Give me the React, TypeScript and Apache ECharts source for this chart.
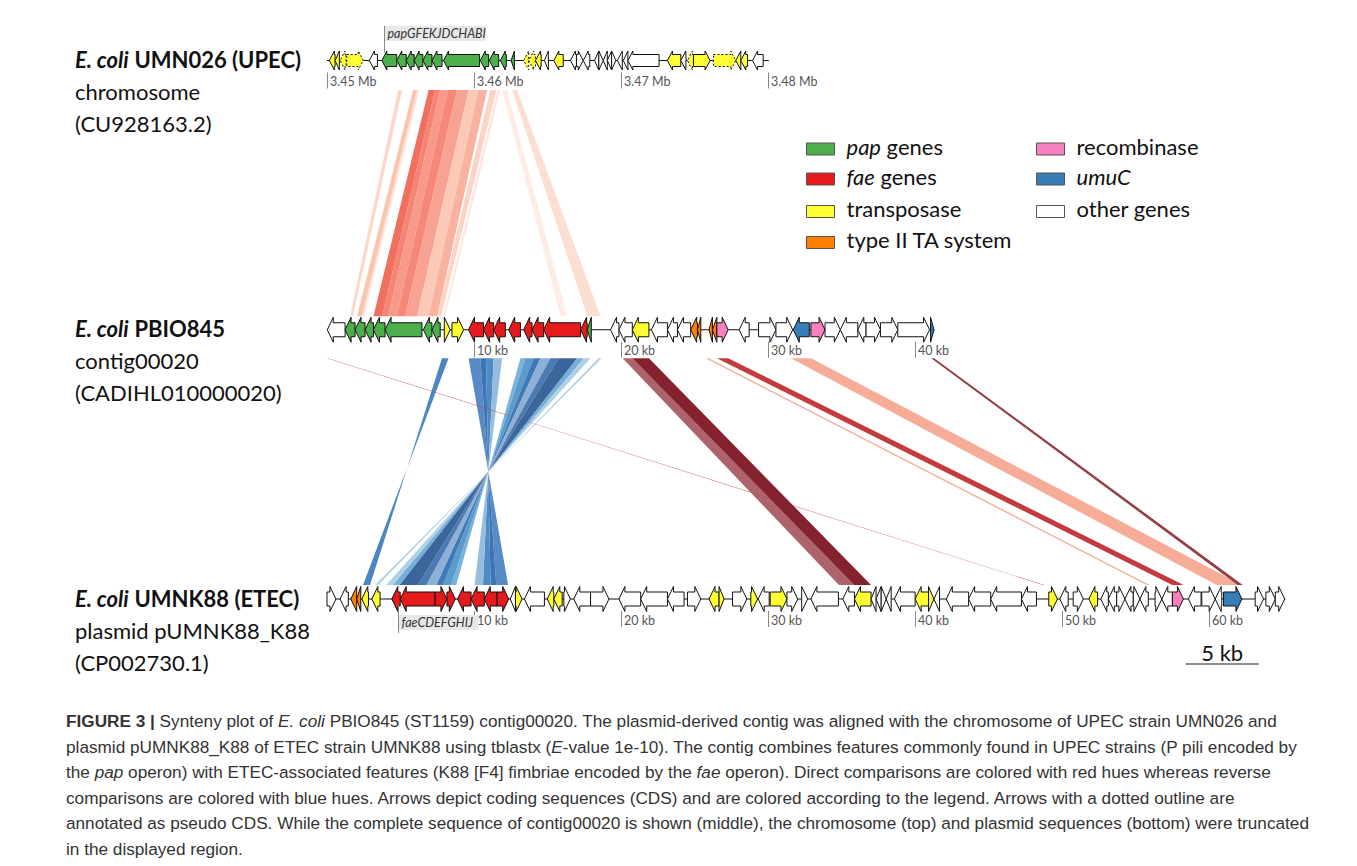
import React, { useEffect, useRef } from "react";
import * as echarts from "echarts";

// ---------- DATA ----------
const TOP_OFFSET = 3450; // kb, left end of displayed chromosome window

// categories: 0 pap, 1 fae, 2 transposase, 3 type II TA, 4 recombinase, 5 umuC, 6 other
const categoryNames = ["pap genes", "fae genes", "transposase", "type II TA system", "recombinase", "umuC", "other genes"];
const categoryColors = ["#4daf4a", "#e41a1c", "#ffff33", "#ff7f00", "#f781bf", "#377eb8", "#ffffff"];

// [start kb, end kb, strand, category, pseudo]
const topGenes = [
  [3450.16, 3450.55, -1, 2, 0], [3450.55, 3450.84, -1, 2, 0], [3450.89, 3451.3, -1, 2, 1], [3451.34, 3452.47, 1, 2, 1],
  [3452.88, 3453.43, -1, 6, 0], [3453.73, 3454.75, -1, 0, 0], [3454.75, 3455.39, -1, 0, 0], [3455.39, 3455.93, -1, 0, 0],
  [3455.93, 3456.52, -1, 0, 0], [3456.52, 3457.14, -1, 0, 0], [3457.14, 3457.82, -1, 0, 0], [3457.93, 3460.38, -1, 0, 0],
  [3460.43, 3461.0, -1, 0, 0], [3461.04, 3461.68, -1, 0, 0], [3461.79, 3462.2, -1, 0, 0], [3462.52, 3462.75, -1, 0, 0],
  [3463.38, 3463.72, -1, 2, 1], [3463.72, 3464.18, -1, 2, 1], [3464.18, 3464.57, -1, 2, 0], [3464.79, 3465.06, -1, 6, 0],
  [3465.43, 3466.07, -1, 2, 0], [3466.56, 3466.97, -1, 6, 0], [3466.97, 3467.43, 1, 6, 0], [3467.43, 3467.88, -1, 6, 0],
  [3468.2, 3468.49, -1, 6, 0], [3468.49, 3468.79, 1, 6, 0], [3468.79, 3469.07, -1, 6, 0], [3469.07, 3469.36, -1, 6, 0],
  [3469.36, 3469.65, 1, 6, 0], [3469.75, 3470.09, -1, 6, 0], [3470.16, 3470.47, -1, 6, 0], [3470.47, 3472.59, -1, 6, 0],
  [3473.16, 3474.07, -1, 2, 0], [3474.07, 3474.42, -1, 6, 0], [3474.52, 3474.93, -1, 2, 1], [3474.93, 3476.06, 1, 2, 0],
  [3476.29, 3477.81, 1, 2, 1], [3477.81, 3478.15, -1, 2, 0], [3478.15, 3478.61, -1, 2, 0], [3478.95, 3479.67, -1, 6, 0],
];

const midGenes = [
  [0.02, 1.23, -1, 6, 0], [1.23, 1.91, -1, 0, 0], [1.91, 2.59, -1, 0, 0], [2.59, 3.16, -1, 0, 0], [3.16, 3.95, -1, 0, 0],
  [3.95, 6.46, -1, 0, 0], [6.56, 7.14, -1, 0, 0], [7.14, 7.7, -1, 0, 0], [7.98, 8.38, 1, 2, 0], [8.5, 9.29, 1, 2, 0],
  [9.63, 10.65, -1, 1, 0], [10.65, 11.34, -1, 1, 0], [11.34, 12.13, -1, 1, 0], [12.36, 13.16, -1, 1, 0], [13.38, 13.95, -1, 1, 0],
  [13.95, 14.74, -1, 1, 0], [14.74, 17.25, -1, 1, 0], [17.25, 17.7, -1, 1, 0], [17.7, 17.98, -1, 0, 0], [19.29, 19.86, -1, 6, 0],
  [19.86, 20.77, -1, 6, 0], [20.77, 21.9, -1, 2, 0], [22.07, 23.16, -1, 6, 0], [23.16, 23.84, -1, 6, 0], [23.84, 24.74, -1, 6, 0],
  [24.74, 25.2, -1, 3, 0], [25.2, 25.43, -1, 3, 0], [25.99, 26.22, -1, 3, 0], [26.22, 26.52, -1, 3, 0], [26.52, 27.29, 1, 4, 0],
  [28.04, 28.72, -1, 6, 0], [29.36, 30.54, 1, 6, 0], [30.54, 31.68, 1, 6, 0], [31.72, 32.81, -1, 5, 0], [32.92, 33.88, 1, 4, 0],
  [33.88, 34.92, 1, 6, 0], [34.92, 36.11, -1, 6, 0], [36.11, 36.67, -1, 6, 0], [36.67, 37.65, 1, 6, 0], [37.65, 38.83, 1, 6, 0],
  [38.83, 40.99, 1, 6, 0], [41.06, 41.29, 1, 5, 0],
];

const botGenes = [
  [0.0, 0.61, 1, 6, 0], [0.89, 1.45, -1, 6, 0], [1.62, 2.02, -1, 3, 0], [2.02, 2.3, -1, 3, 0], [2.37, 2.82, -1, 2, 0],
  [3.05, 3.61, -1, 2, 0], [4.41, 4.98, -1, 1, 0], [4.98, 7.36, -1, 1, 0], [7.36, 8.16, 1, 1, 0], [8.16, 8.73, 1, 1, 0],
  [8.88, 9.8, -1, 1, 0], [9.8, 10.7, -1, 1, 0], [10.7, 11.57, -1, 1, 0], [11.57, 12.36, 1, 1, 0], [12.47, 12.82, -1, 6, 0],
  [12.82, 13.27, 1, 2, 0], [13.43, 14.79, -1, 6, 0], [14.98, 15.43, -1, 2, 0], [15.43, 16.0, -1, 2, 0], [16.11, 16.56, 1, 6, 0],
  [16.79, 17.93, -1, 6, 0], [17.93, 19.18, 1, 6, 0], [19.86, 21.34, -1, 6, 0], [21.34, 23.16, -1, 6, 0], [23.16, 24.29, -1, 6, 0],
  [24.52, 25.43, 1, 6, 0], [25.99, 26.67, -1, 2, 0], [26.67, 27.01, 1, 2, 0], [27.59, 28.56, 1, 6, 0], [28.83, 29.29, 1, 2, 0],
  [29.33, 30.08, -1, 6, 0], [30.15, 31.29, 1, 2, 0], [31.29, 32.02, 1, 6, 0], [32.29, 32.7, 1, 6, 0], [32.92, 34.79, -1, 6, 0],
  [35.09, 35.88, -1, 6, 0], [35.88, 37.01, -1, 2, 0], [37.01, 37.35, -1, 6, 0], [37.35, 37.7, -1, 6, 0], [37.7, 38.04, 1, 6, 0],
  [38.04, 38.38, -1, 6, 0], [38.6, 40.01, -1, 6, 0], [40.01, 40.92, -1, 2, 0], [40.92, 41.29, 1, 2, 0], [41.29, 41.67, -1, 6, 0],
  [42.13, 43.65, -1, 6, 0], [43.65, 45.15, -1, 6, 0], [45.15, 47.24, -1, 6, 0], [47.24, 48.26, -1, 6, 0], [49.1, 49.69, 1, 2, 0],
  [49.85, 50.42, -1, 6, 0], [50.76, 51.45, 1, 6, 0], [51.83, 52.42, -1, 2, 0], [52.64, 53.15, -1, 6, 0], [53.15, 53.72, -1, 6, 0],
  [53.72, 54.28, 1, 6, 0], [54.28, 54.85, -1, 6, 0], [54.85, 55.3, 1, 6, 0], [55.3, 55.87, -1, 6, 0], [56.33, 56.79, 1, 6, 0],
  [56.79, 57.51, -1, 6, 0], [57.51, 58.26, 1, 4, 0], [58.6, 59.46, -1, 6, 0], [59.51, 60.42, 1, 6, 0], [60.42, 60.87, -1, 6, 0],
  [60.99, 62.24, 1, 5, 0], [63.14, 63.71, 1, 6, 0], [63.87, 64.51, 1, 6, 0], [64.51, 65.15, 1, 6, 0],
];

const topExtent = [3450.0, 3480.06];
const midExtent = [0, 41.3];
const botExtent = [0, 65.2];

const topTicks = [3450, 3460, 3470, 3480];
const topTickLabels = ["3.45 Mb", "3.46 Mb", "3.47 Mb", "3.48 Mb"];
const midTicks = [10, 20, 30, 40];
const midTickLabels = ["10 kb", "20 kb", "30 kb", "40 kb"];
const botTicks = [10, 20, 30, 40, 50, 60];
const botTickLabels = ["10 kb", "20 kb", "30 kb", "40 kb", "50 kb", "60 kb"];

// tblastx hits: [query start, query end, subject start, subject end] (subject reversed => inverted hit)
const topMidLinks = [
  [3454.84, 3455.11, 1.57, 1.77], [3455.86, 3456.13, 2.04, 2.39], [3456.13, 3456.27, 2.39, 2.52],
  [3456.91, 3457.36, 3.16, 3.75], [3457.36, 3457.7, 3.75, 4.16], [3457.7, 3458.23, 4.16, 4.75],
  [3458.23, 3458.84, 4.75, 5.32], [3458.84, 3459.63, 5.32, 6.13], [3459.63, 3460.31, 6.13, 6.91],
  [3460.31, 3460.89, 6.91, 7.5], [3461.11, 3461.52, 7.5, 7.77], [3461.59, 3461.79, 7.91, 8.04],
  [3461.91, 3462.25, 15.88, 16.34], [3462.59, 3462.93, 17.7, 18.61],
];
const topMidColors = [
  "#fcd5c6", "#fbbfa8", "#fde0d5",
  "#f06350", "#f37a68", "#f6917f",
  "#f47e6c", "#f69a8a", "#fbc4b0",
  "#f9aa98", "#fcd0c0", "#fde5dc",
  "#fdebe4", "#fcdccf",
];

const midBotLinks = [
  [7.82, 8.27, 2.93, 2.45],
  [9.63, 10.43, 12.32, 11.52], [10.43, 10.82, 11.52, 11.13], [10.82, 11.34, 11.13, 10.61], [11.34, 11.91, 10.61, 10.04],
  [13.16, 13.5, 8.79, 8.45], [13.5, 14.06, 8.45, 7.89], [14.06, 14.52, 7.89, 7.43], [14.52, 15.2, 7.43, 6.75],
  [15.2, 15.77, 6.75, 6.18], [15.77, 17.02, 6.18, 4.93], [17.02, 17.47, 4.93, 4.48], [17.47, 17.93, 4.48, 4.02],
  [18.47, 18.68, 3.48, 3.27],
  [0.0, 0.08, 48.7, 48.8],
  [20.11, 20.77, 34.83, 35.86], [20.77, 21.9, 35.86, 37.01],
  [25.77, 25.97, 55.76, 55.96], [26.52, 27.29, 57.51, 58.28],
  [31.56, 32.92, 60.53, 62.24], [41.1, 41.31, 61.96, 62.3],
];
const midBotColors = [
  "#3b7cbd",
  "#4a80c0", "#2a69ad", "#4080c0", "#8db6dc",
  "#6aaed6", "#4d92c8", "#2f6fb0", "#86a9d2",
  "#3d6fab", "#2b5894", "#6aa7d4", "#a8cde4",
  "#a8cde4",
  "#b5485a",
  "#a65560", "#7a0f1c",
  "#f3a58f", "#bf2a2e",
  "#f6a58e", "#8b3038",
];

const clusterLabels = [
  { text: "papGFEKJDCHABI", kb: 3453.9, track: 0 },
  { text: "faeCDEFGHIJ", kb: 4.8, track: 2 },
];

const scaleBar = [58.4, 63.4];
const scaleBarLabel = "5 kb";

const trackTitles = [
  ["{bi|E. coli} {b|UMN026 (UPEC)}", "chromosome", "(CU928163.2)"],
  ["{bi|E. coli} {b|PBIO845}", "contig00020", "(CADIHL010000020)"],
  ["{bi|E. coli} {b|UMNK88 (ETEC)}", "plasmid pUMNK88_K88", "(CP002730.1)"],
];

const captionLines = [
  "{b|FIGURE 3 |} Synteny plot of {i|E. coli} PBIO845 (ST1159) contig00020. The plasmid-derived contig was aligned with the chromosome of UPEC strain UMN026 and",
  "plasmid pUMNK88_K88 of ETEC strain UMNK88 using tblastx ({i|E}-value 1e-10). The contig combines features commonly found in UPEC strains (P pili encoded by",
  "the {i|pap} operon) with ETEC-associated features (K88 [F4] fimbriae encoded by the {i|fae} operon). Direct comparisons are colored with red hues whereas reverse",
  "comparisons are colored with blue hues. Arrows depict coding sequences (CDS) and are colored according to the legend. Arrows with a dotted outline are",
  "annotated as pseudo CDS. While the complete sequence of contig00020 is shown (middle), the chromosome (top) and plasmid sequences (bottom) were truncated",
  "in the displayed region.",
];

// ---------- RENDERING ----------
const FONT = "Lato, 'Open Sans', sans-serif";
const CAP_FONT = "'Liberation Sans', Arial, sans-serif";
const CAP_SIZE = 17.2;
const PX_PER_KB = 14.7;
const X_MAX = 70;

function offsetOf(track: number) {
  return track === 0 ? TOP_OFFSET : 0;
}

export default function App() {
  const ref = useRef<HTMLDivElement>(null);

  useEffect(() => {
    const chart = echarts.init(ref.current!, null, { renderer: "svg" });

    const geneData: number[][] = [];
    [topGenes, midGenes, botGenes].forEach((arr, t) =>
      arr.forEach((g) => geneData.push([g[0] - offsetOf(t), g[1] - offsetOf(t), g[2], t, g[3], g[4]]))
    );
    const backboneData = [topExtent, midExtent, botExtent].map((e, t) => [e[0] - offsetOf(t), e[1] - offsetOf(t), t]);
    const tickData: any[] = [];
    [[topTicks, topTickLabels], [midTicks, midTickLabels], [botTicks, botTickLabels]].forEach((pair: any, t) =>
      pair[0].forEach((v: number, i: number) => tickData.push({ value: [v - offsetOf(t), t], label: pair[1][i] }))
    );
    const linkData: any[] = [];
    topMidLinks.forEach((l, i) =>
      linkData.push({ value: [l[0] - TOP_OFFSET, l[1] - TOP_OFFSET, l[2], l[3], 0], color: topMidColors[i] })
    );
    midBotLinks.forEach((l, i) => linkData.push({ value: [l[0], l[1], l[2], l[3], 1], color: midBotColors[i] }));

    const geneItem = (params: any, api: any) => {
      const s = api.value(0), e = api.value(1), strand = api.value(2), t = api.value(3);
      const cat = api.value(4), pseudo = api.value(5);
      const p0 = api.coord([s, t]);
      const p1 = api.coord([e, t]);
      const cy = p0[1];
      const small = t === 0;
      const bh = small ? 6 : 7, hh = small ? 9.5 : 12.5;
      const hl = Math.min(small ? 5 : 6, p1[0] - p0[0]);
      let pts;
      if (strand > 0) {
        const b = p1[0] - hl;
        pts = [[p0[0], cy - bh], [b, cy - bh], [b, cy - hh], [p1[0], cy], [b, cy + hh], [b, cy + bh], [p0[0], cy + bh]];
      } else {
        const b = p0[0] + hl;
        pts = [[p1[0], cy - bh], [b, cy - bh], [b, cy - hh], [p0[0], cy], [b, cy + hh], [b, cy + bh], [p1[0], cy + bh]];
      }
      return {
        type: "polygon",
        shape: { points: pts },
        style: { fill: categoryColors[cat], stroke: "#111", lineWidth: 1, lineDash: pseudo ? [2, 2] : null },
      };
    };

    const linkItem = (params: any, api: any) => {
      const pair = api.value(4);
      const a0 = api.coord([api.value(0), pair]);
      const a1 = api.coord([api.value(1), pair]);
      const b0 = api.coord([api.value(2), pair + 1]);
      const b1 = api.coord([api.value(3), pair + 1]);
      const yt = a0[1] + (pair === 0 ? 29.5 : 28.5);
      const yb = b0[1] - (pair === 0 ? 13.5 : 14);
      return {
        type: "polygon",
        shape: { points: [[a0[0], yt], [a1[0], yt], [b1[0], yb], [b0[0], yb]] },
        style: { fill: linkData[params.dataIndex].color, opacity: 0.92 },
      };
    };

    const backboneItem = (params: any, api: any) => {
      const p0 = api.coord([api.value(0), api.value(2)]);
      const p1 = api.coord([api.value(1), api.value(2)]);
      return {
        type: "line",
        shape: { x1: p0[0], y1: p0[1], x2: p1[0], y2: p1[1] },
        style: { stroke: "#111", lineWidth: 1 },
      };
    };

    const tickItem = (params: any, api: any) => {
      const p = api.coord([api.value(0), api.value(1)]);
      const x = Math.round(p[0]) + 0.5;
      return {
        type: "group",
        children: [
          { type: "line", shape: { x1: x, y1: p[1] + 12, x2: x, y2: p[1] + 28 }, style: { stroke: "#888", lineWidth: 1 } },
          {
            type: "text",
            x: x + 2.5,
            y: p[1] + 21,
            style: {
              text: tickData[params.dataIndex].label,
              fill: "#555",
              fontSize: 12.5,
              fontFamily: FONT,
              textAlign: "left",
              textVerticalAlign: "middle",
              align: "left",
              verticalAlign: "middle",
            },
          },
        ],
      };
    };

    const clusterItem = (params: any, api: any) => {
      const lab = clusterLabels[params.dataIndex];
      const p = api.coord([api.value(0), api.value(1)]);
      const x = Math.round(p[0]) + 0.5;
      const above = lab.track === 0;
      const w = lab.text.length * 7.1 + 2;
      const boxTop = above ? p[1] - 34.5 : p[1] + 16;
      return {
        type: "group",
        children: [
          { type: "rect", shape: { x: x, y: boxTop, width: w, height: 15 }, style: { fill: "#e8e8e8" } },
          {
            type: "line",
            shape: above ? { x1: x, y1: p[1] - 34.5, x2: x, y2: p[1] - 8 } : { x1: x, y1: p[1] + 6, x2: x, y2: p[1] + 34 },
            style: { stroke: "#888", lineWidth: 1 },
          },
          {
            type: "text",
            x: x + 3,
            y: boxTop + 7.5,
            style: {
              text: lab.text,
              fill: "#333",
              fontSize: 12.5,
              fontStyle: "italic",
              fontFamily: FONT,
              textAlign: "left",
              textVerticalAlign: "middle",
              align: "left",
              verticalAlign: "middle",
            },
          },
        ],
      };
    };

    const scaleItem = (params: any, api: any) => {
      const p0 = api.coord([api.value(0), 2]);
      const p1 = api.coord([api.value(1), 2]);
      const y = p0[1] + 65;
      return {
        type: "group",
        children: [
          { type: "line", shape: { x1: p0[0], y1: y, x2: p1[0], y2: y }, style: { stroke: "#222", lineWidth: 1.2 } },
          {
            type: "text",
            x: (p0[0] + p1[0]) / 2,
            y: y - 12,
            style: {
              text: scaleBarLabel,
              fill: "#111",
              fontSize: 22,
              fontFamily: FONT,
              textAlign: "center",
              textVerticalAlign: "middle",
              align: "center",
              verticalAlign: "middle",
            },
          },
        ],
      };
    };

    // graphic: titles, legend, caption
    const graphics: any[] = [];
    const titleRows = [62, 331.5, 601];
    trackTitles.forEach((lines, t) => {
      lines.forEach((ln, i) => {
        graphics.push({
          type: "text",
          left: 75,
          top: titleRows[t] + i * 32 - 14,
          style: {
            text: ln,
            fill: "#111",
            fontSize: 22,
            fontFamily: FONT,
            rich: {
              bi: { fontStyle: "italic", fontWeight: "bold", fontSize: 22, fontFamily: FONT, fill: "#111" },
              b: { fontWeight: "bold", fontSize: 22, fontFamily: FONT, fill: "#111" },
            },
          },
        });
      });
    });

    const legendPos = [
      [806.5, 149], [806.5, 179], [806.5, 211.5], [806.5, 242.5],
      [1036.5, 149], [1036.5, 179], [1036.5, 211.5],
    ];
    categoryNames.forEach((name, i) => {
      const [lx, ly] = legendPos[i];
      graphics.push({
        type: "rect",
        shape: { x: lx, y: ly - 6, width: 28, height: 12 },
        style: { fill: categoryColors[i], stroke: "#555", lineWidth: 1 },
      });
      let txt = name;
      if (name.startsWith("pap ")) txt = "{i|pap} genes";
      else if (name.startsWith("fae ")) txt = "{i|fae} genes";
      else if (name === "umuC") txt = "{i|umuC}";
      graphics.push({
        type: "text",
        x: lx + 40,
        y: ly - 3,
        style: {
          text: txt,
          fill: "#111",
          fontSize: 22,
          fontFamily: FONT,
          textVerticalAlign: "middle",
          verticalAlign: "middle",
          rich: { i: { fontStyle: "italic", fontSize: 22, fontFamily: FONT, fill: "#111" } },
        },
      });
    });

    captionLines.forEach((ln, i) => {
      graphics.push({
        type: "text",
        x: 66,
        y: 721 + i * 25.6,
        style: {
          text: ln,
          fill: "#333",
          fontSize: CAP_SIZE,
          fontFamily: CAP_FONT,
          textVerticalAlign: "middle",
          verticalAlign: "middle",
          rich: {
            b: { fontWeight: "bold", fontSize: CAP_SIZE, fontFamily: CAP_FONT, fill: "#333" },
            i: { fontStyle: "italic", fontSize: CAP_SIZE, fontFamily: CAP_FONT, fill: "#333" },
          },
        },
      });
    });

    chart.setOption({
      animation: false,
      backgroundColor: "#ffffff",
      grid: { left: 327, top: 60.5, width: PX_PER_KB * X_MAX, height: 538.5 },
      xAxis: { type: "value", min: 0, max: X_MAX, show: false },
      yAxis: { type: "value", min: 0, max: 2, inverse: true, show: false },
      graphic: graphics,
      series: [
        { type: "custom", renderItem: linkItem, data: linkData.map((d) => d.value), clip: false, z: 1 },
        { type: "custom", renderItem: backboneItem, data: backboneData, clip: false, z: 2 },
        { type: "custom", renderItem: geneItem, data: geneData, clip: false, z: 3 },
        { type: "custom", renderItem: tickItem, data: tickData.map((d) => d.value), clip: false, z: 4 },
        { type: "custom", renderItem: clusterItem, data: clusterLabels.map((c) => [c.kb - offsetOf(c.track), c.track]), clip: false, z: 4 },
        { type: "custom", renderItem: scaleItem, data: [scaleBar], clip: false, z: 4 },
      ],
    });
    return () => chart.dispose();
  }, []);

  return (
    <div
      ref={ref}
      style={{ position: "absolute", left: 0, top: 0, width: 1357, height: 866, background: "#fff" }}
    />
  );
}
